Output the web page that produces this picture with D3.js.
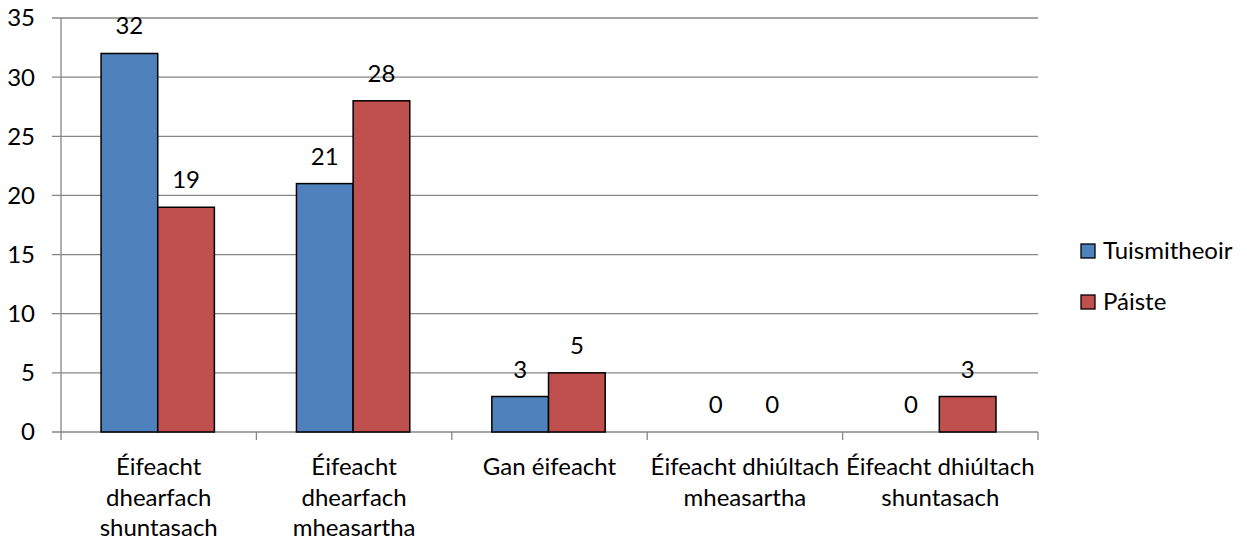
<!DOCTYPE html>
<html><head><meta charset="utf-8">
<script src="https://cdn.jsdelivr.net/npm/d3@7"></script>
<style>
body{margin:0;background:#fff;}
text{font-family:Lato,"Open Sans",sans-serif;fill:#000;}
</style></head>
<body><svg id="c" width="1247" height="544"></svg>
<script>
const categories = [
  ["Éifeacht","dhearfach","shuntasach"],
  ["Éifeacht","dhearfach","mheasartha"],
  ["Gan éifeacht"],
  ["Éifeacht dhiúltach","mheasartha"],
  ["Éifeacht dhiúltach","shuntasach"]
];
const seriesNames = ["Tuismitheoir","Páiste"];
const tuismitheoir = [32,21,3,0,0];
const paiste = [19,28,5,0,3];
const colors = ["#4F81BD","#C0504D"];
const yTicks = [0,5,10,15,20,25,30,35];

(function(){
const svg = d3.select("#c");
const fs = 24;
const mL = 61, mR = 1038, mT = 18, mB = 432;
const x = d3.scaleBand().domain(d3.range(categories.length)).range([mL,mR]).paddingInner(0).paddingOuter(0);
const y = d3.scaleLinear().domain([0,35]).range([mB,mT]);
const series = [tuismitheoir, paiste];

svg.append("g").selectAll("line").data(yTicks).join("line")
  .attr("x1",mL-9).attr("x2",mR).attr("y1",d=>y(d)).attr("y2",d=>y(d))
  .attr("stroke","#868686").attr("stroke-width",1.3);
svg.append("line").attr("x1",mL).attr("x2",mL).attr("y1",mT).attr("y2",mB)
  .attr("stroke","#868686").attr("stroke-width",1.3);
svg.append("g").selectAll("line").data(d3.range(categories.length+1)).join("line")
  .attr("x1",d=>mL+d*x.bandwidth()).attr("x2",d=>mL+d*x.bandwidth())
  .attr("y1",mB).attr("y2",mB+8).attr("stroke","#868686").attr("stroke-width",1.3);
svg.append("g").selectAll("text").data(yTicks).join("text")
  .attr("x",mL-26).attr("y",d=>y(d)).attr("dy","0.35em").attr("text-anchor","end")
  .attr("font-size",fs).text(d=>d);

const barW = x.bandwidth()*0.29;
const off = x.bandwidth()*0.205;
series.forEach((s,si)=>{
  const g = svg.append("g");
  g.selectAll("rect").data(s).join("rect")
    .attr("x",(d,i)=>x(i)+off+si*barW).attr("width",barW)
    .attr("y",d=>y(d)).attr("height",d=>mB-y(d))
    .attr("fill",colors[si]).attr("stroke",d=>d>0?"#000":"none").attr("stroke-width",1.5);
  g.selectAll("text").data(s).join("text")
    .attr("x",(d,i)=>x(i)+off+si*barW+barW/2).attr("y",d=>y(d)-19)
    .attr("text-anchor","middle").attr("font-size",fs).text(d=>d);
});

categories.forEach((lines,i)=>{
  const t = svg.append("text").attr("text-anchor","middle").attr("font-size",fs);
  lines.forEach((l,j)=>t.append("tspan").attr("x",x(i)+x.bandwidth()/2).attr("y",475+j*30.5).text(l));
});

seriesNames.forEach((n,i)=>{
  const cy = 251 + i*51;
  svg.append("rect").attr("x",1081).attr("y",cy-7).attr("width",14).attr("height",14)
    .attr("fill",colors[i]).attr("stroke","#000").attr("stroke-width",1.3);
  svg.append("text").attr("x",1103).attr("y",cy).attr("dy","0.35em").attr("font-size",fs).text(n);
});
})();
</script></body></html>
